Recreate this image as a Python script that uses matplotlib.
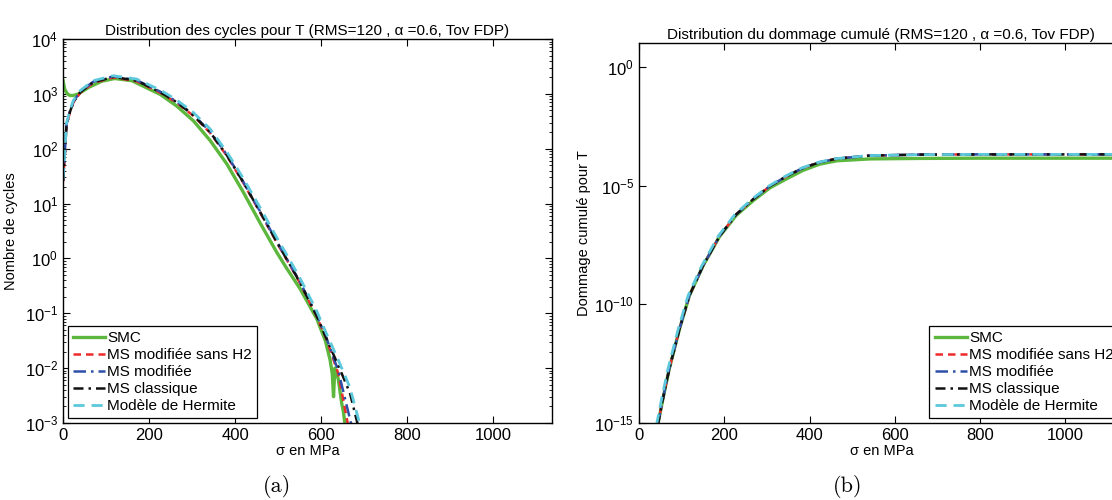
import numpy as np
import matplotlib
matplotlib.use("Agg")
import matplotlib.pyplot as plt
from matplotlib.ticker import LogLocator, NullLocator, FixedLocator

# ---- (a) distribution des cycles : log10(N)
smc_x = [0, 1, 4, 10, 16, 24, 36, 60, 90, 120, 160, 226, 264, 303, 342, 381, 419, 458,
         497, 520, 551, 590, 610, 621, 626, 629, 632, 640, 648, 652, 656]
smc_log = [3.24, 3.20, 3.08, 3.00, 2.97, 2.97, 3.00, 3.12, 3.23, 3.28, 3.24, 2.99, 2.78,
           2.51, 2.15, 1.72, 1.21, 0.65, 0.11, -0.18, -0.55, -1.10, -1.50, -1.85, -2.10,
           -2.52, -2.00, -2.20, -2.64, -2.80, -3.05]

ms_x = [0, 3, 8, 16, 24, 40, 70, 117, 171, 226, 264, 303, 342, 381, 419, 458, 497, 528,
        551, 590, 613]
ms_log = [1.40, 1.75, 2.42, 2.66, 2.84, 3.02, 3.20, 3.30, 3.23, 3.02, 2.84, 2.60, 2.29,
          1.87, 1.38, 0.84, 0.29, -0.13, -0.45, -1.06, -1.48]

red_tail_x = [640, 663]
red_tail_log = [-2.10, -3.05]
blue_tail_x = [640, 671]
blue_tail_log = [-2.05, -3.05]
black_tail_x = [640, 667, 686]
black_tail_log = [-1.95, -2.45, -3.05]
herm_x = [0, 3, 8, 16, 24, 40, 70, 117, 171, 226, 264, 303, 342, 381, 419, 458, 497, 528,
          551, 590, 613, 640, 667, 691]
herm_log = [1.45, 1.80, 2.46, 2.70, 2.88, 3.06, 3.24, 3.33, 3.27, 3.07, 2.89, 2.66, 2.36,
            1.94, 1.46, 0.93, 0.38, -0.04, -0.36, -0.96, -1.38, -1.85, -2.35, -3.05]

# ---- (b) dommage cumulé : log10(D)
dmg_x = [44, 56, 71, 95, 118, 150, 189, 228, 267, 307, 346, 385, 424, 464, 542, 660,
         800, 1000, 1137]
dmg_log = [-15.1, -14.0, -12.73, -11.05, -9.65, -8.39, -7.13, -6.22, -5.59, -5.03, -4.61,
           -4.26, -4.02, -3.87, -3.74, -3.70, -3.69, -3.69, -3.69]
smc_dmg_log = [-15.1, -14.0, -12.73, -11.05, -9.65, -8.39, -7.15, -6.26, -5.65, -5.10,
               -4.72, -4.36, -4.10, -3.96, -3.88, -3.86, -3.85, -3.85, -3.85]
herm_dmg_x = [41, 53, 68, 92, 115, 147, 186, 225, 264, 304, 343, 382, 421, 461, 539, 660,
              800, 1000, 1137]

labels = ['SMC', 'MS modifiée sans H2', 'MS modifiée', 'MS classique', 'Modèle de Hermite']
c_green = '#5cb83c'
c_red = '#ee2a2a'
c_blue = '#2f50a8'
c_black = '#111111'
c_cyan = '#5cc8dc'

plt.rcParams['font.family'] = ['Liberation Sans', 'DejaVu Sans']
plt.rcParams['font.size'] = 10
plt.rcParams['mathtext.fontset'] = 'custom'
plt.rcParams['mathtext.rm'] = 'Liberation Sans'
plt.rcParams['mathtext.it'] = 'Liberation Sans:italic'

fig = plt.figure(figsize=(11.12, 5.0), dpi=100)
ax1 = fig.add_axes([0.0567, 0.154, 0.4397, 0.768])
ax2 = fig.add_axes([0.5746, 0.154, 0.436, 0.760])


def p10(v):
    return 10.0 ** np.array(v)


# (a)
ax1.plot(smc_x, p10(smc_log), color=c_green, lw=2.4, label=labels[0])
ax1.plot(ms_x + red_tail_x, p10(ms_log + red_tail_log), color=c_red, lw=1.8,
         ls=(0, (3, 2)), label=labels[1])
ax1.plot(ms_x + blue_tail_x, p10([v + 0.02 for v in ms_log] + blue_tail_log), color=c_blue,
         lw=1.8, ls=(0, (5, 2, 1, 2)), label=labels[2])
ax1.plot(ms_x + black_tail_x, p10([v + 0.01 for v in ms_log] + black_tail_log), color=c_black,
         lw=1.8, ls=(0, (4, 2, 1, 2)), label=labels[3])
ax1.plot(herm_x, p10(herm_log), color=c_cyan, lw=2.0, ls=(0, (4, 2.5)), label=labels[4])
ax1.set_yscale('log')
ax1.set_xlim(0, 1137)
ax1.set_ylim(1e-3, 1e4)
ax1.set_xticks([0, 200, 400, 600, 800, 1000])
ax1.yaxis.set_major_locator(LogLocator(base=10, numticks=20))
ax1.yaxis.set_minor_locator(LogLocator(base=10, subs=np.arange(2, 10), numticks=20))
ax1.set_title('Distribution des cycles pour T (RMS=120 , \u03b1 =0.6, Tov FDP)', fontsize=11, pad=3)
ax1.set_xlabel('\u03c3 en MPa', fontsize=10.5, labelpad=1)
ax1.set_ylabel('Nombre de cycles', fontsize=10.5, labelpad=5)
leg1 = ax1.legend(loc='lower left', fontsize=11, handlelength=2.1, handletextpad=0.15,
                  labelspacing=0.2, borderpad=0.35, borderaxespad=0.3, fancybox=False,
                  framealpha=1, edgecolor='black')
leg1.get_frame().set_linewidth(0.9)

# (b)
ax2.plot(dmg_x, p10(smc_dmg_log), color=c_green, lw=2.4, label=labels[0])
ax2.plot(dmg_x, p10(dmg_log), color=c_red, lw=1.8, ls=(0, (3, 2)), label=labels[1])
ax2.plot(dmg_x, p10(dmg_log), color=c_blue, lw=1.8, ls=(0, (5, 2, 1, 2)), label=labels[2])
ax2.plot(dmg_x, p10(dmg_log), color=c_black, lw=1.8, ls=(0, (4, 2, 1, 2)), label=labels[3])
ax2.plot(herm_dmg_x, p10(dmg_log), color=c_cyan, lw=2.0, ls=(0, (4, 2.5)), label=labels[4])
ax2.set_yscale('log')
ax2.set_xlim(0, 1137)
ax2.set_ylim(1e-15, 1e1)
ax2.set_xticks([0, 200, 400, 600, 800, 1000])
ax2.yaxis.set_major_locator(FixedLocator([1e-15, 1e-10, 1e-5, 1e0]))
ax2.yaxis.set_minor_locator(NullLocator())
ax2.set_title('Distribution du dommage cumulé (RMS=120 , \u03b1 =0.6, Tov FDP)', fontsize=11, pad=3)
ax2.set_xlabel('\u03c3 en MPa', fontsize=10.5, labelpad=1)
ax2.set_ylabel('Dommage cumulé pour T', fontsize=10.5, labelpad=2)
leg2 = ax2.legend(loc='lower right', fontsize=11, handlelength=2.1, handletextpad=0.15,
                  labelspacing=0.2, borderpad=0.35, borderaxespad=0.3, fancybox=False,
                  framealpha=1, edgecolor='black')
leg2.get_frame().set_linewidth(0.9)

for ax in (ax1, ax2):
    ax.tick_params(which='both', direction='in', top=True, right=True, labelsize=12)
    ax.tick_params(which='major', length=5)
    ax.tick_params(which='minor', length=2.5)
    for s in ax.spines.values():
        s.set_linewidth(1.0)

fig.text(0.249, 0.026, '(a)', fontsize=16, family='cmr10', ha='center', va='center')
fig.text(0.762, 0.026, '(b)', fontsize=16, family='cmr10', ha='center', va='center')

fig.savefig('out.png', dpi=100)
